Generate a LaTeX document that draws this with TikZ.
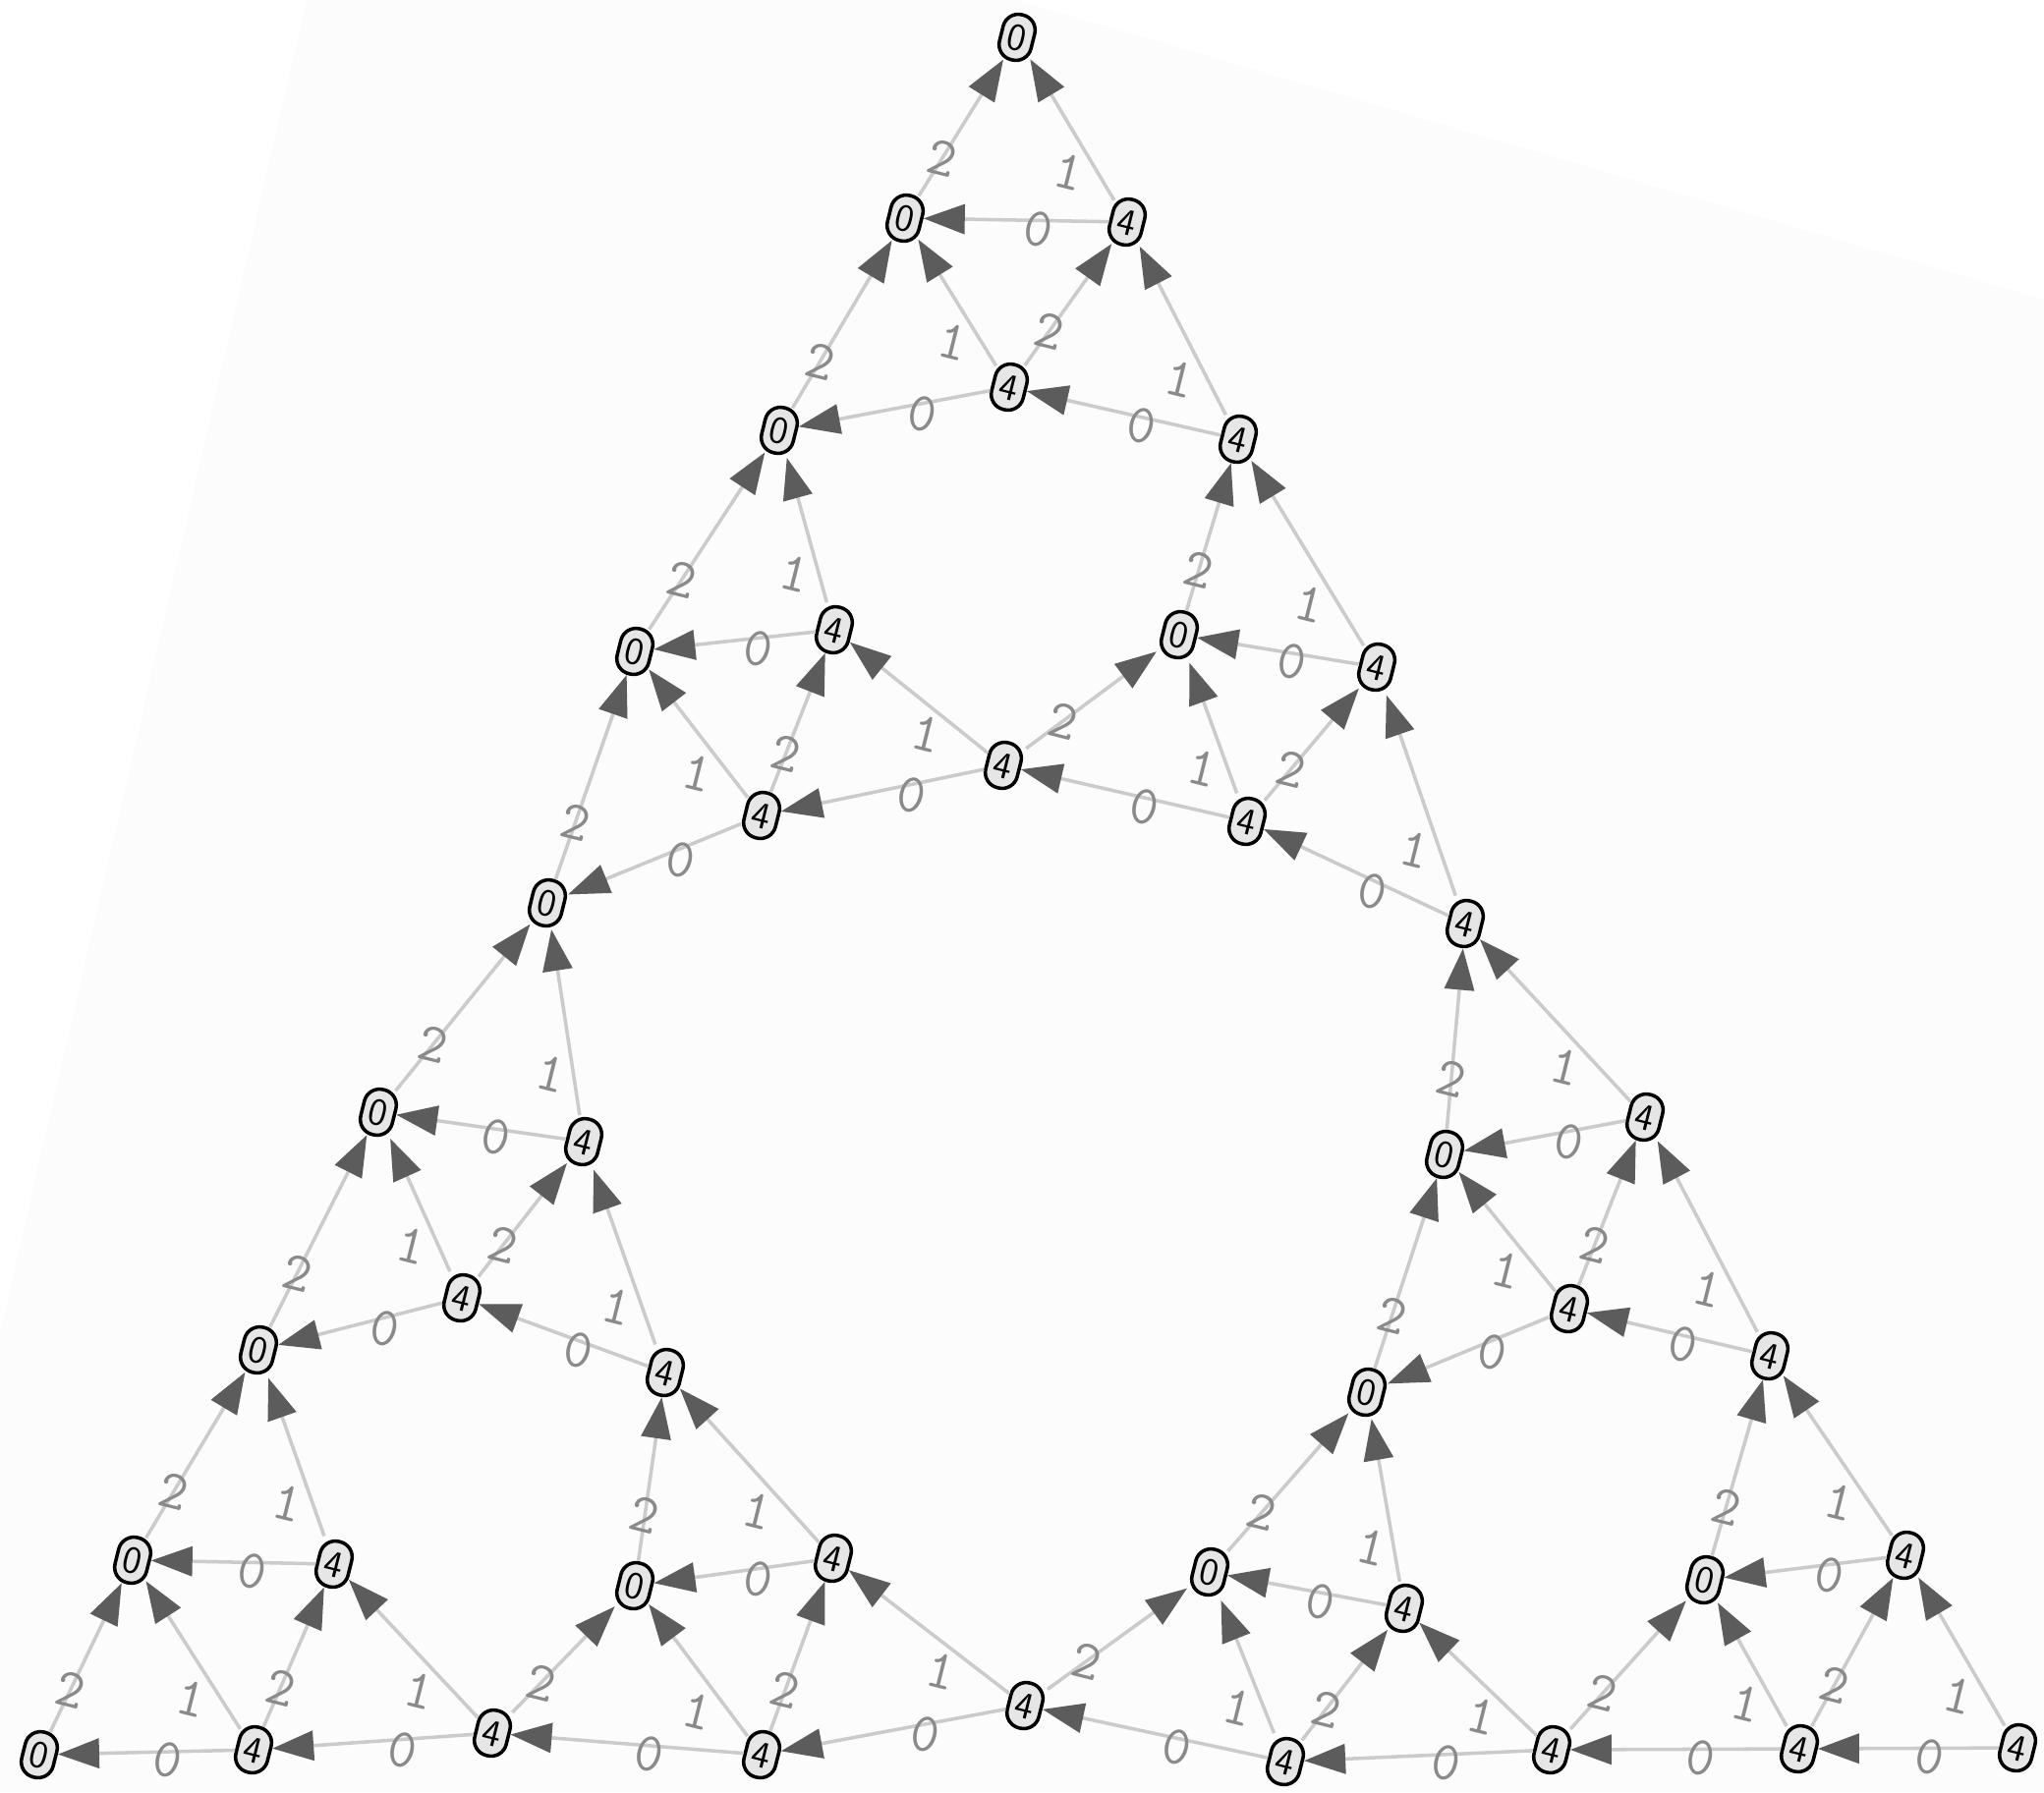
\documentclass[tikz,border=0pt]{standalone}
\usepackage{tikz}
\usetikzlibrary{arrows.meta}
\definecolor{edgegray}{HTML}{CBCBCB}
\definecolor{tipgray}{HTML}{5C5C5C}
\definecolor{labgray}{HTML}{8A8A8A}
\definecolor{nodefill}{HTML}{E6E6E6}
\definecolor{canvas}{HTML}{FCFCFC}

\begin{document}
\begin{tikzpicture}[x=0.01cm,y=-0.01cm,
  v/.style={draw,line width=1pt,rounded corners=4.5pt,fill=nodefill,
            minimum width=.33cm,minimum height=.47cm,inner sep=0pt,rotate=-14,
            font=\sffamily\fontsize{11}{11}\selectfont},
  e/.style={draw=edgegray,line width=1pt,
            -{Triangle[length=.42cm,width=.30cm,color=tipgray]}},
  lab/.style={inner sep=0pt,rotate=-14,text=labgray,
              font=\ttfamily\fontsize{16}{16}\selectfont}]
  % canvas
  \fill[white] (0,0) rectangle (2080,1824);
  \fill[canvas] (312,0) -- (1033,0) -- (2080,305) -- (2080,1824)
    -- (0,1824) -- (0,1357) -- cycle;
  \useasboundingbox (0,0) rectangle (2080,1824);
  % vertices
  \node[v] (p1) at (1035,38) {0};
  \node[v] (p2) at (921,222) {0};
  \node[v] (p3) at (1147,226) {4};
  \node[v] (p4) at (1027,394) {4};
  \node[v] (p5) at (793,438) {0};
  \node[v] (p6) at (1260,447) {4};
  \node[v] (p7) at (646,663) {0};
  \node[v] (p8) at (849,641) {4};
  \node[v] (p9) at (1200,646) {0};
  \node[v] (p10) at (1401,679) {4};
  \node[v] (p11) at (1021,779) {4};
  \node[v] (p12) at (775,830) {4};
  \node[v] (p13) at (1269,836) {4};
  \node[v] (p14) at (557,919) {0};
  \node[v] (p15) at (1491,940) {4};
  \node[v] (p16) at (385,1132) {0};
  \node[v] (p17) at (594,1162) {4};
  \node[v] (p18) at (1470,1175) {0};
  \node[v] (p19) at (1674,1137) {4};
  \node[v] (p20) at (470,1321) {4};
  \node[v] (p21) at (1597,1332) {4};
  \node[v] (p22) at (263,1374) {0};
  \node[v] (p23) at (677,1397) {4};
  \node[v] (p24) at (1391,1417) {0};
  \node[v] (p25) at (1801,1380) {4};
  \node[v] (p26) at (135,1588) {0};
  \node[v] (p27) at (340,1592) {4};
  \node[v] (p28) at (646,1614) {0};
  \node[v] (p29) at (848,1586) {4};
  \node[v] (p30) at (1231,1600) {0};
  \node[v] (p31) at (1429,1637) {4};
  \node[v] (p32) at (1735,1608) {0};
  \node[v] (p33) at (1939,1583) {4};
  \node[v] (p34) at (1043,1736) {4};
  \node[v] (p35) at (258,1781) {4};
  \node[v] (p36) at (501,1764) {4};
  \node[v] (p37) at (775,1786) {4};
  \node[v] (p38) at (1308,1793) {4};
  \node[v] (p39) at (1579,1781) {4};
  \node[v] (p40) at (1831,1780) {4};
  \node[v] (p41) at (40,1786) {0};
  \node[v] (p42) at (2053,1779) {4};
  % small triangles: top/left/right
  \foreach \t/\l/\r in {p1/p2/p3, p2/p5/p4, p3/p4/p6,
      p5/p7/p8, p7/p14/p12, p8/p12/p11,
      p6/p9/p10, p9/p11/p13, p10/p13/p15,
      p14/p16/p17, p16/p22/p20, p17/p20/p23,
      p22/p26/p27, p26/p41/p35, p27/p35/p36,
      p23/p28/p29, p28/p36/p37, p29/p37/p34,
      p15/p18/p19, p18/p24/p21, p19/p21/p25,
      p24/p30/p31, p30/p34/p38, p31/p38/p39,
      p25/p32/p33, p32/p39/p40, p33/p40/p42} {
    \draw[e] (\l) -- node[lab,pos=.28] {2} (\t);
    \draw[e] (\r) -- node[lab,auto,pos=.3] {1} (\t);
    \draw[e] (\r) -- node[lab,auto,pos=.37,inner sep=-3pt] {0} (\l);
  }
\end{tikzpicture}
\end{document}
